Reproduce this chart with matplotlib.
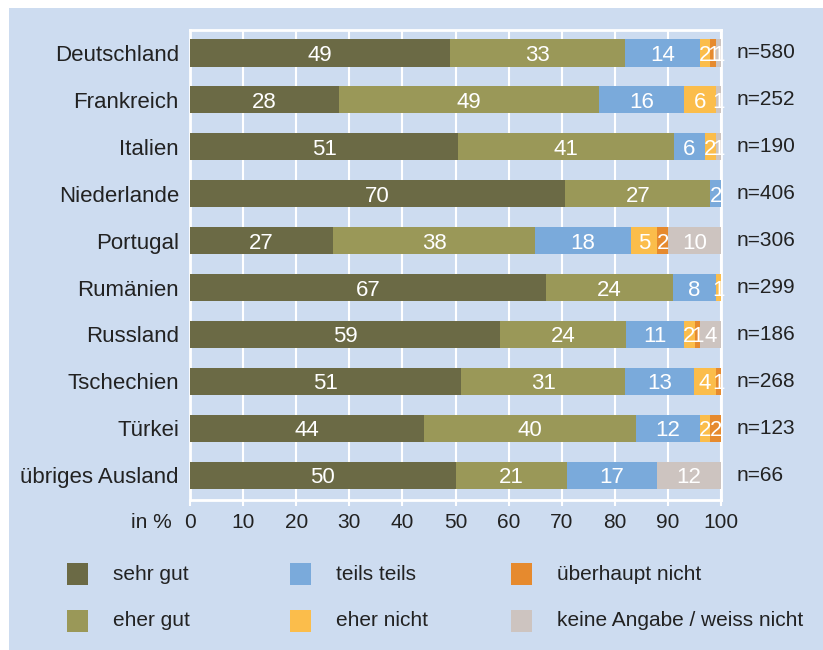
import matplotlib
matplotlib.use("Agg")
import matplotlib.pyplot as plt
from matplotlib.patches import Rectangle
import numpy as np

plt.rcParams['font.family'] = ['Liberation Sans', 'DejaVu Sans']

countries = ["Deutschland", "Frankreich", "Italien", "Niederlande", "Portugal",
             "Rumänien", "Russland", "Tschechien", "Türkei", "übriges Ausland"]
n_labels = ["n=580", "n=252", "n=190", "n=406", "n=306",
            "n=299", "n=186", "n=268", "n=123", "n=66"]

categories = ["sehr gut", "eher gut", "teils teils", "eher nicht",
              "überhaupt nicht", "keine Angabe / weiss nicht"]
colors = ["#6b6a45", "#9a9858", "#7aaadb", "#fbbd4b", "#e68a2e", "#cdc4c0"]

sehr_gut = [49, 28, 51, 70, 27, 67, 59, 51, 44, 50]
eher_gut = [33, 49, 41, 27, 38, 24, 24, 31, 40, 21]
teils_teils = [14, 16, 6, 2, 18, 8, 11, 13, 12, 17]
eher_nicht = [2, 6, 2, 0, 5, 1, 2, 4, 2, 0]
ueberhaupt_nicht = [1, 0, 0, 0, 2, 0, 1, 1, 2, 0]
keine_angabe = [1, 1, 1, 0, 10, 0, 4, 0, 0, 12]

series = [sehr_gut, eher_gut, teils_teils, eher_nicht, ueberhaupt_nicht, keine_angabe]

bg = "#cddcf0"
fig = plt.figure(figsize=(8.23, 6.5), dpi=100, facecolor="white")
fig.add_artist(Rectangle((9 / 823, 0), 1, 1 - 8 / 650, transform=fig.transFigure,
                         facecolor=bg, edgecolor="none", zorder=-10))

ax = fig.add_axes([190 / 823, 1 - 500 / 650, 531 / 823, 470 / 650])
ax.set_facecolor(bg)

# rounded values don't always add to 100 -> scale bars to full width
totals = np.sum(np.array(series, dtype=float), axis=0)
y = np.arange(len(countries))
left = np.zeros(len(countries))
for vals, col in zip(series, colors):
    vals = np.array(vals, dtype=float)
    widths = vals / totals * 100
    ax.barh(y, widths, left=left, height=0.58, color=col, zorder=3)
    for yi, (l, w, v) in enumerate(zip(left, widths, vals)):
        if v > 0:
            ax.text(l + w / 2, yi, f"{int(v)}", ha="center", va="center_baseline",
                    color="white", fontsize=16, zorder=4)
    left += widths

ax.set_xlim(0, 100)
ax.set_ylim(len(countries) - 0.47, -0.49)
ax.set_yticks(y)
ax.set_yticklabels(countries, fontsize=16, color="#222222")
ax.tick_params(axis="y", length=0, pad=8)
ax.set_xticks(range(0, 101, 10))
ax.tick_params(axis="x", colors="white", length=4, width=1.5, labelsize=15,
               labelcolor="#222222", pad=5)
ax.grid(axis="x", color="white", linewidth=1.5, zorder=0)
for s in ax.spines.values():
    s.set_color("white")
    s.set_linewidth(2)

for yi, t in enumerate(n_labels):
    ax.text(103, yi, t, ha="left", va="center", fontsize=15, color="#222222",
            clip_on=False)

ax.text(-3.5, -0.047, "in %", transform=ax.get_xaxis_transform(), ha="right",
        va="center", fontsize=15, color="#222222")

# legend
leg_x = [67, 290, 511]
leg_y = [574, 621]
for i, (cat, col) in enumerate(zip(categories, colors)):
    cx = leg_x[i // 2]
    cy = leg_y[i % 2]
    fig.add_artist(Rectangle((cx / 823, 1 - (cy + 11) / 650), 21 / 823, 22 / 650,
                             transform=fig.transFigure, facecolor=col,
                             edgecolor="none"))
    fig.text((cx + 46) / 823, 1 - cy / 650, cat, ha="left", va="center",
             fontsize=15, color="#222222")

plt.savefig("out.png", dpi=100, facecolor="white")
